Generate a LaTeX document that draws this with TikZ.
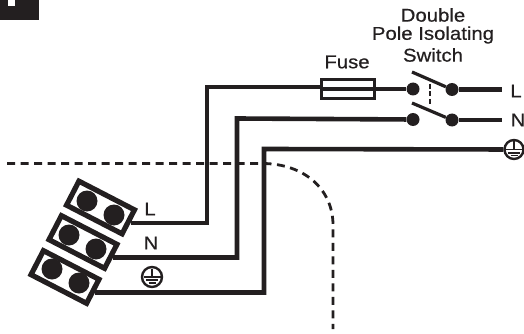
\documentclass[tikz,border=0pt]{standalone}
\usepackage{fontspec}
\setmainfont[FakeBold=0.5]{Liberation Sans}
\usetikzlibrary{calc}
\tikzset{
  wire/.style={line width=4.6pt,line join=miter,draw=ink},
  block/.style={draw=ink,line width=5.2pt,minimum width=62.5pt,minimum height=27pt,inner sep=0pt,fill=white,rotate=-27.3},
  hole/.style={circle,fill=ink,minimum size=21pt,inner sep=0pt},
  pin/.style={circle,fill=ink,minimum size=13pt,inner sep=0pt},
  blade/.style={line width=3.2pt,draw=ink},
  lab/.style={font=\fontsize{18.5}{20}\selectfont,text=ink,xscale=1.1,inner sep=0pt},
  earthring/.style={circle,draw=ink,line width=2.4pt,inner sep=0pt,minimum size=19pt},
  pics/earthsym/.style={code={
    \draw[ink,line width=1.8pt] (0,-8.5)--(0,0);
    \draw[ink,line width=1.8pt] (-8.5,0)--(8.5,0);
    \draw[ink,line width=1.6pt] (-6,3.2)--(6,3.2);
    \draw[ink,line width=1.5pt] (-3.5,6)--(3.5,6);
  }}
}
\definecolor{ink}{HTML}{231F20}
\begin{document}
\begin{tikzpicture}[x=1pt,y=-1pt]
\useasboundingbox (0,0) rectangle (524,334);
% corner tab
\fill[ink] (0,0) rectangle (39,20);
\fill[white] (8,0) rectangle (15,6);
% dashed boundary
\coordinate (ds) at (7,163.5);
\coordinate (de) at (333,329);
\draw[ink,line width=2.8pt,dash pattern=on 8pt off 5.5pt] (ds) -- (262,163.5) .. controls (305,163.5) and (333,190) .. (333,225) -- (de);
% terminal blocks
\node[block] (b1) at (100.5,207.5) {};
\node[block] (b2) at (83,242) {};
\node[block] (b3) at (65,277) {};
\node[hole] (h1a) at (87,201) {};
\node[hole] (h1b) at (114,215) {};
\node[hole] (h2a) at (69,235) {};
\node[hole] (h2b) at (96,249) {};
\node[hole] (h3a) at (52,269) {};
\node[hole] (h3b) at (79,283) {};
% fuse and switch
\node[draw=ink,line width=3.6pt,minimum width=53pt,minimum height=19pt,inner sep=0pt] (fuse) at (348,89) {};
\node[pin] (p1) at (413,89) {};
\node[pin] (p2) at (452,89.5) {};
\node[pin] (p3) at (413,119.5) {};
\node[pin] (p4) at (452,120) {};
\coordinate (e1) at (502,89.5);
\coordinate (e2) at (502,120);
\coordinate (bl1) at (412,72);
\coordinate (bl2) at (412,103);
\coordinate (g1) at (430,84);
\coordinate (g2) at (430,106);
\coordinate (c1) at (207,87);
\coordinate (c2) at (237,118.5);
\coordinate (c3) at (264,149);
% wires
\draw[wire] (b1.east) -| (c1) -- (fuse.west |- c1) -- (fuse.west);
\draw[wire] (fuse.west) -- (p1);
\draw[wire] (b2.east) -| (c2) -- (p3);
\node[earthring] (eR) at (514,149.5) {};
\draw[wire] (b3.east) -| (c3) -- (eR);
\draw[wire] (p2) -- (e1);
\draw[wire] (p4) -- (e2);
\draw[blade] (bl1) -- (p2);
\draw[blade] (bl2) -- (p4);
\draw[ink,line width=2.6pt,dash pattern=on 5pt off 2.5pt] (g1) -- (g2);
\pic at (eR) {earthsym};
\node[earthring,minimum size=20pt] (eL) at (152,277) {};
\pic at (eL) {earthsym};
% labels
\node[lab] (tFuse) at (347,62) {Fuse};
\node[lab] (tD) at (433,15) {Double};
\node[lab] (tP) at (433,35) {Pole Isolating};
\node[lab] (tS) at (433,55) {Switch};
\node[lab] (lL) at (150,209) {L};
\node[lab] (lN) at (151,243) {N};
\node[lab] (rL) at (516,91) {L};
\node[lab] (rN) at (518,120) {N};
\end{tikzpicture}
\end{document}
